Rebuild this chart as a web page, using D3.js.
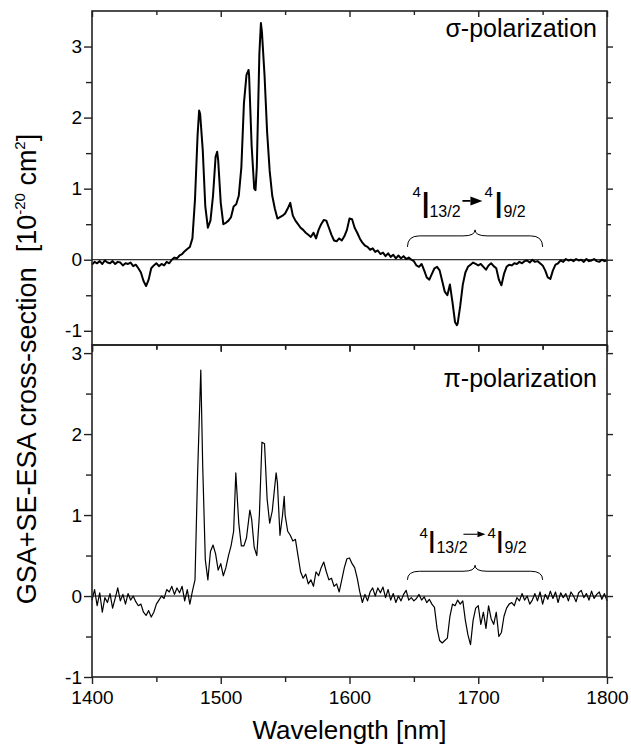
<!DOCTYPE html>
<html>
<head>
<meta charset="utf-8">
<script src="https://cdnjs.cloudflare.com/ajax/libs/d3/7.8.5/d3.min.js"></script>
<style>
  body { margin: 0; background: #fff; }
  svg text { font-family: "Liberation Sans", Arial, sans-serif; fill: #000; }
  .frame { fill: none; stroke: #222; stroke-width: 1.6px; }
  .tick line { stroke: #222; stroke-width: 1.4px; }
  .zero { stroke: #000; stroke-width: 1px; }
  .curve { fill: none; stroke: #000; stroke-linejoin: round; }
  .brace { fill: none; stroke: #000; stroke-width: 1px; }
</style>
</head>
<body>
<svg width="631" height="746"></svg>
<script>
// sigma-polarization spectrum [wavelength nm, cross-section 1e-20 cm2]
var sigmaData = [
  [1400,-0.07],[1402,-0.03],[1404,-0.05],[1406,-0.02],[1408,-0.06],[1410,-0.01],[1412,-0.04],[1414,-0.05],
  [1416,-0.02],[1418,-0.06],[1420,-0.03],[1422,-0.04],[1424,-0.08],[1426,-0.05],[1428,-0.06],[1430,-0.04],
  [1432,-0.09],[1434,-0.07],[1436,-0.12],[1438,-0.18],[1440,-0.30],[1442,-0.37],[1444,-0.28],[1446,-0.12],
  [1448,-0.08],[1450,-0.05],[1452,-0.09],[1454,-0.06],[1456,-0.08],[1458,-0.03],[1460,-0.05],[1462,0.00],
  [1464,0.03],[1466,0.02],[1468,0.06],[1470,0.08],[1472,0.12],[1474,0.15],[1476,0.18],[1478,0.30],
  [1480,0.85],[1482,1.75],[1483.2,2.1],[1484,2.05],[1486,1.55],[1488,0.75],[1490,0.45],[1492,0.55],
  [1494,0.9],[1496,1.45],[1497.2,1.52],[1498,1.4],[1500,0.8],[1502,0.5],[1504,0.52],[1506,0.55],
  [1508,0.6],[1510,0.75],[1512,0.78],[1514,0.9],[1516,1.3],[1518,2.2],[1520,2.6],[1521.6,2.67],
  [1522,2.6],[1524,1.6],[1526,1.0],[1527,0.98],[1528,1.3],[1530,2.9],[1531.2,3.33],[1532,3.2],
  [1534,2.6],[1536,1.8],[1538,1.25],[1540,0.9],[1542,0.72],[1544,0.58],[1546,0.6],[1548,0.62],
  [1550,0.65],[1552,0.72],[1554,0.8],[1556,0.62],[1558,0.55],[1560,0.5],[1562,0.45],[1564,0.42],
  [1566,0.38],[1568,0.35],[1570,0.32],[1572,0.38],[1574,0.3],[1576,0.42],[1578,0.5],[1580,0.56],
  [1582,0.55],[1584,0.45],[1586,0.35],[1588,0.27],[1590,0.26],[1592,0.3],[1594,0.27],[1596,0.33],
  [1598,0.42],[1600,0.58],[1602,0.57],[1604,0.45],[1606,0.38],[1608,0.3],[1610,0.24],[1612,0.2],
  [1614,0.18],[1616,0.14],[1618,0.16],[1620,0.11],[1622,0.13],[1624,0.08],[1626,0.1],[1628,0.05],
  [1630,0.09],[1632,0.04],[1634,0.07],[1636,0.02],[1638,0.06],[1640,0.02],[1642,0.05],[1644,0.01],
  [1646,0.03],[1648,0.00],[1650,-0.02],[1652,-0.08],[1654,-0.1],[1656,-0.06],[1658,-0.15],[1660,-0.25],
  [1662,-0.28],[1664,-0.2],[1666,-0.12],[1668,-0.1],[1670,-0.15],[1672,-0.3],[1674,-0.45],[1676,-0.5],
  [1678,-0.35],[1680,-0.6],[1682,-0.88],[1683.4,-0.92],[1684,-0.9],[1686,-0.65],[1688,-0.35],[1690,-0.18],
  [1692,-0.1],[1694,-0.07],[1696,-0.04],[1698,-0.06],[1700,-0.08],[1702,-0.06],[1704,-0.1],[1706,-0.14],
  [1708,-0.08],[1710,-0.05],[1712,-0.09],[1714,-0.12],[1716,-0.28],[1718,-0.36],[1720,-0.2],[1722,-0.1],
  [1724,-0.07],[1726,-0.08],[1728,-0.05],[1730,-0.06],[1732,-0.03],[1734,-0.05],[1736,-0.02],[1738,-0.01],
  [1740,-0.04],[1742,0.00],[1744,-0.03],[1746,-0.02],[1748,-0.05],[1750,-0.08],[1752,-0.15],[1754,-0.25],
  [1756,-0.27],[1758,-0.15],[1760,-0.07],[1762,-0.05],[1764,-0.01],[1766,-0.03],[1768,0.01],[1770,-0.01],
  [1772,0.00],[1774,-0.02],[1776,0.01],[1778,-0.01],[1780,0.00],[1782,-0.03],[1784,0.01],[1786,-0.02],
  [1788,-0.01],[1790,0.01],[1792,-0.02],[1794,-0.03],[1796,0.00],[1798,-0.02],[1800,-0.01]
];

// pi-polarization spectrum
var piData = [
  [1400,-0.05],[1402,0.08],[1404,-0.12],[1406,0.04],[1408,-0.2],[1410,-0.02],[1412,-0.08],[1414,0.03],
  [1416,-0.15],[1418,-0.03],[1420,0.1],[1422,-0.06],[1424,0.02],[1426,-0.1],[1428,0.03],[1430,-0.05],
  [1432,0.00],[1434,-0.07],[1436,-0.12],[1438,-0.1],[1440,-0.2],[1442,-0.24],[1444,-0.18],[1446,-0.26],
  [1448,-0.2],[1450,-0.1],[1452,-0.05],[1454,0.00],[1456,-0.03],[1458,0.08],[1460,0.05],[1462,0.12],
  [1464,0.02],[1466,0.1],[1468,0.04],[1470,0.12],[1472,-0.06],[1474,0.08],[1476,-0.1],[1478,0.06],
  [1480,0.2],[1482,1.5],[1484.5,2.79],[1486,1.6],[1488,0.45],[1490,0.2],[1492,0.55],[1494,0.63],
  [1496,0.52],[1498,0.32],[1500,0.4],[1502,0.25],[1504,0.35],[1506,0.5],[1508,0.62],[1510,0.8],
  [1511.7,1.52],[1514,0.9],[1516,0.62],[1518,0.62],[1520,0.72],[1522.6,1.06],[1524,0.95],[1526,0.6],
  [1528,0.5],[1530,1.0],[1532,1.9],[1534,1.88],[1536,1.2],[1538,0.9],[1540,1.05],[1543,1.52],
  [1544,1.4],[1546,0.75],[1548,1.0],[1549.3,1.23],[1550,1.0],[1552,0.8],[1554,0.75],[1556,0.68],
  [1558,0.7],[1560,0.5],[1562,0.3],[1564,0.22],[1566,0.27],[1568,0.15],[1570,0.2],[1572,0.12],
  [1574,0.3],[1576,0.25],[1578,0.35],[1580,0.42],[1582,0.3],[1584,0.2],[1586,0.22],[1588,0.12],
  [1590,0.15],[1592,0.05],[1594,0.2],[1596,0.35],[1598,0.46],[1600,0.47],[1602,0.4],[1604,0.35],
  [1606,0.22],[1608,0.05],[1610,-0.08],[1612,0.02],[1614,-0.06],[1616,0.05],[1618,0.1],[1620,0.00],
  [1622,0.1],[1624,0.04],[1626,0.11],[1628,-0.02],[1630,0.08],[1632,-0.05],[1634,0.03],[1636,-0.08],
  [1638,0.00],[1640,-0.06],[1642,0.02],[1644,0.07],[1646,-0.05],[1648,-0.02],[1650,-0.06],[1652,-0.03],
  [1654,0.02],[1656,-0.05],[1658,-0.01],[1660,-0.08],[1662,-0.04],[1664,-0.1],[1666,-0.14],[1668,-0.4],
  [1670,-0.55],[1672,-0.58],[1674,-0.55],[1676,-0.52],[1678,-0.25],[1680,-0.1],[1682,-0.12],[1684,-0.05],
  [1686,-0.1],[1688,-0.06],[1690,-0.3],[1692,-0.48],[1694,-0.6],[1696,-0.3],[1698,-0.15],[1700,-0.12],
  [1702,-0.35],[1704,-0.2],[1706,-0.4],[1708,-0.12],[1710,-0.28],[1712,-0.35],[1714,-0.2],[1716,-0.5],
  [1718,-0.45],[1720,-0.25],[1722,-0.15],[1724,-0.1],[1726,-0.08],[1728,-0.12],[1730,-0.02],[1732,-0.06],
  [1734,0.03],[1736,-0.05],[1738,0.00],[1740,-0.1],[1742,-0.05],[1744,0.03],[1746,-0.06],[1748,0.05],
  [1750,-0.1],[1752,0.02],[1754,-0.04],[1756,0.06],[1758,-0.03],[1760,0.05],[1762,-0.08],[1764,0.04],
  [1766,-0.02],[1768,0.03],[1770,-0.06],[1772,0.05],[1774,0.00],[1776,-0.07],[1778,0.04],[1780,0.07],
  [1782,-0.02],[1784,0.03],[1786,-0.05],[1788,0.06],[1790,-0.03],[1792,0.02],[1794,0.05],[1796,-0.04],
  [1798,0.03],[1800,-0.06]
];

var xTicks = [1400, 1500, 1600, 1700, 1800];
var xMinor = [1450, 1550, 1650, 1750];
var yTicks = [-1, 0, 1, 2, 3];
var yMinor = [-0.5, 0.5, 1.5, 2.5];
var braceRange = [1645, 1750];

var svg = d3.select("svg");
var left = 92, right = 607;

var x = d3.scaleLinear().domain([1400, 1800]).range([left, right]);

// layout per panel; annotation offsets are relative to the brace (left end, tip)
var panels = [
  { data: sigmaData, top: 11, bottom: 345, domain: [-1.2, 3.5], width: 2, label: "\u03c3-polarization", labelY: 37,
    braceV: [0.18, 0.42], bigI: 37,
    dx: { s1: 5, i1: 13, b1: 22, a0: 55, a1: 63, a2: 75, s2: 77, i2: 86, b2: 96 },
    dy: { s: -33, i: -12, b: -13, a: -29 }, head: 4.5, aw: 1.8 },
  { data: piData, top: 345, bottom: 677, domain: [-1, 3.1], width: 1.2, label: "\u03c0-polarization", labelY: 387,
    braceV: [0.2, 0.38], bigI: 31,
    dx: { s1: 12, i1: 20, b1: 29, a0: 56, a1: 70, a2: 78, s2: 80, i2: 88, b2: 97 },
    dy: { s: -27, i: -12, b: -12, a: -31 }, head: 3, aw: 1.1 }
];

panels.forEach(function(p, i) {
  var y = d3.scaleLinear().domain(p.domain).range([p.bottom, p.top]);
  var g = svg.append("g");

  // zero line
  g.append("line").attr("class", "zero")
    .attr("x1", left).attr("x2", right)
    .attr("y1", y(0)).attr("y2", y(0));

  // curve
  g.append("path").datum(p.data)
    .attr("class", "curve")
    .attr("stroke-width", p.width)
    .attr("d", d3.line().x(function(d) { return x(d[0]); }).y(function(d) { return y(d[1]); }));

  // left axis, outward ticks
  var la = g.append("g").attr("transform", "translate(" + left + ",0)")
    .call(d3.axisLeft(y).tickValues(yTicks).tickSize(8).tickPadding(2)
      .tickFormat(function(d) { return String(d); }));
  la.select(".domain").remove();
  la.selectAll("text").style("font-size", "19px");
  g.append("g").attr("transform", "translate(" + left + ",0)")
    .call(d3.axisLeft(y).tickValues(yMinor).tickSize(6).tickFormat(""))
    .select(".domain").remove();

  // right axis, inward ticks
  [[yTicks, 6], [yMinor, 4]].forEach(function(t) {
    g.append("g").attr("transform", "translate(" + right + ",0)")
      .call(d3.axisLeft(y).tickValues(t[0]).tickSize(-t[1]).tickFormat(""))
      .select(".domain").remove();
  });

  // top axis ticks (inward, downward)
  [[xTicks, 6], [xMinor, 4]].forEach(function(t) {
    g.append("g").attr("transform", "translate(0," + p.top + ")")
      .call(d3.axisTop(x).tickValues(t[0]).tickSize(-t[1]).tickFormat(""))
      .select(".domain").remove();
  });

  // bottom axis ticks (downward)
  var ba = g.append("g").attr("transform", "translate(0," + p.bottom + ")")
    .call(d3.axisBottom(x).tickValues(xTicks).tickSize(7).tickPadding(7)
      .tickFormat(i === 1 ? function(d) { return String(d); } : ""));
  ba.select(".domain").remove();
  ba.selectAll("text").style("font-size", "19px");
  g.append("g").attr("transform", "translate(0," + p.bottom + ")")
    .call(d3.axisBottom(x).tickValues(xMinor).tickSize(5).tickFormat(""))
    .select(".domain").remove();

  // frame
  g.append("rect").attr("class", "frame")
    .attr("x", left).attr("y", p.top)
    .attr("width", right - left).attr("height", p.bottom - p.top);

  // panel label
  g.append("text").attr("x", 597).attr("y", p.labelY)
    .attr("text-anchor", "end").style("font-size", "25px").text(p.label);

  // brace over the 4I13/2 -> 4I9/2 band
  var x0 = x(braceRange[0]), x1 = x(braceRange[1]), xc = (x0 + x1) / 2;
  var yb = y(p.braceV[0]), yt = y(p.braceV[1]), ym = yt + 6, r = 12;
  g.append("path").attr("class", "brace")
    .attr("d", "M" + x0 + "," + yb + " Q" + x0 + "," + ym + " " + (x0 + r) + "," + ym +
      " L" + (xc - r) + "," + ym + " Q" + xc + "," + ym + " " + xc + "," + yt +
      " Q" + xc + "," + ym + " " + (xc + r) + "," + ym +
      " L" + (x1 - r) + "," + ym + " Q" + x1 + "," + ym + " " + x1 + "," + yb);

  // transition label
  var dx = p.dx, dy = p.dy;
  var t = g.append("text");
  [["4", dx.s1, dy.s, 15], ["I", dx.i1, dy.i, p.bigI], ["13/2", dx.b1, dy.b, 16],
   ["4", dx.s2, dy.s, 15], ["I", dx.i2, dy.i, p.bigI], ["9/2", dx.b2, dy.b, 16]].forEach(function(s) {
    t.append("tspan").attr("x", x0 + s[1]).attr("y", yt + s[2])
      .style("font-size", s[3] + "px").text(s[0]);
  });
  var ay = yt + dy.a;
  g.append("line").attr("x1", x0 + dx.a0).attr("x2", x0 + dx.a1).attr("y1", ay).attr("y2", ay)
    .attr("stroke", "#000").attr("stroke-width", p.aw);
  g.append("path").attr("d", "M" + (x0 + dx.a2) + "," + ay + " L" + (x0 + dx.a1) + "," + (ay - p.head) +
    " L" + (x0 + dx.a1) + "," + (ay + p.head) + "Z").attr("fill", "#000");
});

// axis titles
svg.append("text")
  .attr("transform", "translate(36,369) rotate(-90)")
  .attr("text-anchor", "middle")
  .style("font-size", "27px")
  .html("GSA+SE-ESA cross-section&#160;&#160;[10<tspan dy='-11' font-size='15px'>-20</tspan><tspan dy='11'> cm</tspan><tspan dy='-11' font-size='15px'>2</tspan><tspan dy='11'>]</tspan>");

svg.append("text")
  .attr("x", (left + right) / 2).attr("y", 739)
  .attr("text-anchor", "middle")
  .style("font-size", "26px")
  .text("Wavelength [nm]");
</script>
</body>
</html>
